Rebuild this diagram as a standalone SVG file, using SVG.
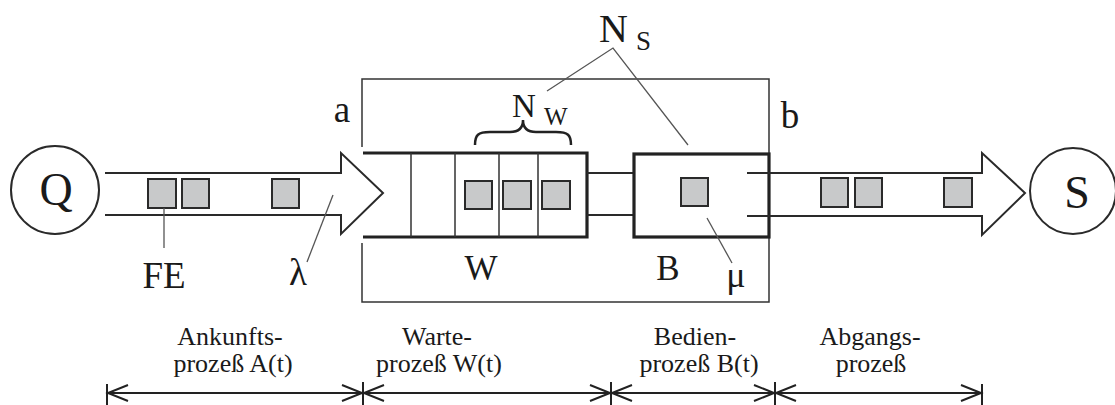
<svg xmlns="http://www.w3.org/2000/svg" width="1115" height="405" viewBox="0 0 1115 405">
<style>
text{font-family:"Liberation Serif","Times New Roman",serif;fill:#1a1a1a}
.ln{fill:none;stroke:#2a2a2a;stroke-width:2}
.thin{fill:none;stroke:#333;stroke-width:1.5}
.thick{fill:none;stroke:#222;stroke-width:3.2}
.lead{fill:none;stroke:#555;stroke-width:1.3}
.fe{fill:#c8c9ca;stroke:#2a2a2a;stroke-width:2}
.dim{fill:none;stroke:#222;stroke-width:2}
.big{font-size:46px}
.lbl{font-size:37px}
.proc{font-size:26px;text-anchor:middle}
</style>
<defs>
<marker id="oa" markerUnits="userSpaceOnUse" markerWidth="26" markerHeight="20" refX="21" refY="9" orient="auto-start-reverse">
<path d="M1,1 L21,9 L1,17" fill="none" stroke="#222" stroke-width="2"/>
</marker>
</defs>

<g id="source-Q">
<circle cx="55" cy="190" r="44" class="ln"/>
<text x="56" y="205" class="big" text-anchor="middle">Q</text>
</g>

<g id="sink-S">
<circle cx="1073" cy="191" r="43" class="ln"/>
<text x="1077" y="208" class="big" text-anchor="middle">S</text>
</g>

<g id="system-box">
<path class="thin" d="M362,147 L362,79 L769,79 L769,302 L362,302 L362,243"/>
<text x="342" y="122" class="lbl" text-anchor="middle">a</text>
<text x="790" y="128" class="lbl" text-anchor="middle">b</text>
</g>

<g id="arrival-arrow">
<path class="ln" d="M105,173 L341,173 L341,153 L383,193 L341,234 L341,215 L105,215"/>
<rect class="fe" x="148" y="179" width="28" height="29"/>
<rect class="fe" x="182" y="179" width="27" height="29"/>
<rect class="fe" x="272" y="179" width="27" height="29"/>
<line class="lead" x1="164" y1="208" x2="164" y2="248"/>
<text x="164" y="288" class="lbl" text-anchor="middle">FE</text>
<line class="lead" x1="333" y1="195" x2="307" y2="262"/>
<text x="298" y="285" class="lbl" text-anchor="middle">λ</text>
</g>

<g id="queue-W">
<path class="thick" d="M363,153 L587,153 L587,237 L363,237"/>
<path class="thin" d="M411,153 V237 M455,153 V237 M499,153 V237 M538,153 V237"/>
<rect class="fe" x="465" y="181" width="27" height="28"/>
<rect class="fe" x="503" y="181" width="28" height="28"/>
<rect class="fe" x="542" y="181" width="28" height="28"/>
<path d="M475,145 C475,135 478,132 490,132 L510,132 C519,132 523,128 523,120 C523,128 527,132 536,132 L556,132 C568,132 571,135 571,145" fill="none" stroke="#222" stroke-width="2.5"/>
<text x="512" y="117" font-size="33">N</text>
<text x="544" y="125" font-size="25">W</text>
<text x="481" y="280" font-size="35" text-anchor="middle">W</text>
</g>

<g id="server-B">
<path class="ln" d="M587,173 L634,173 M587,215 L634,215"/>
<rect class="thick" x="634" y="154" width="135" height="83"/>
<rect class="fe" x="681" y="178" width="27" height="28"/>
<line class="lead" x1="707" y1="218" x2="732" y2="263"/>
<text x="668" y="280" font-size="35" text-anchor="middle">B</text>
<text x="736" y="287" font-size="36" text-anchor="middle">μ</text>
</g>

<g id="N-S">
<text x="599" y="42" font-size="40">N</text>
<text x="636" y="50" font-size="27">S</text>
<path class="lead" d="M547,91 L613,48 L688,145"/>
</g>

<g id="departure-arrow">
<path class="ln" d="M747,173 L982,173 L982,153 L1025,193 L982,235 L982,216 L747,216"/>
<rect class="fe" x="821" y="178" width="27" height="29"/>
<rect class="fe" x="855" y="178" width="27" height="29"/>
<rect class="fe" x="944" y="178" width="28" height="29"/>
</g>

<g id="connectors">
<path class="dim" d="M107,384 V405 M363,382 V405 M611,382 V405 M775,382 V405 M982,384 V405"/>
<line class="dim" x1="108" y1="393" x2="362" y2="393" marker-start="url(#oa)" marker-end="url(#oa)"/>
<line class="dim" x1="364" y1="393" x2="610" y2="393" marker-start="url(#oa)" marker-end="url(#oa)"/>
<line class="dim" x1="612" y1="393" x2="774" y2="393" marker-start="url(#oa)" marker-end="url(#oa)"/>
<line class="dim" x1="776" y1="393" x2="981" y2="393" marker-start="url(#oa)" marker-end="url(#oa)"/>
</g>

<g id="process-labels">
<text x="230" y="345" class="proc">Ankunfts-</text>
<text x="233" y="372" class="proc">prozeß A(t)</text>
<text x="437" y="345" class="proc">Warte-</text>
<text x="439" y="372" class="proc">prozeß W(t)</text>
<text x="695" y="345" class="proc">Bedien-</text>
<text x="699" y="372" class="proc">prozeß B(t)</text>
<text x="870" y="345" class="proc">Abgangs-</text>
<text x="871" y="372" class="proc">prozeß</text>
</g>
</svg>
